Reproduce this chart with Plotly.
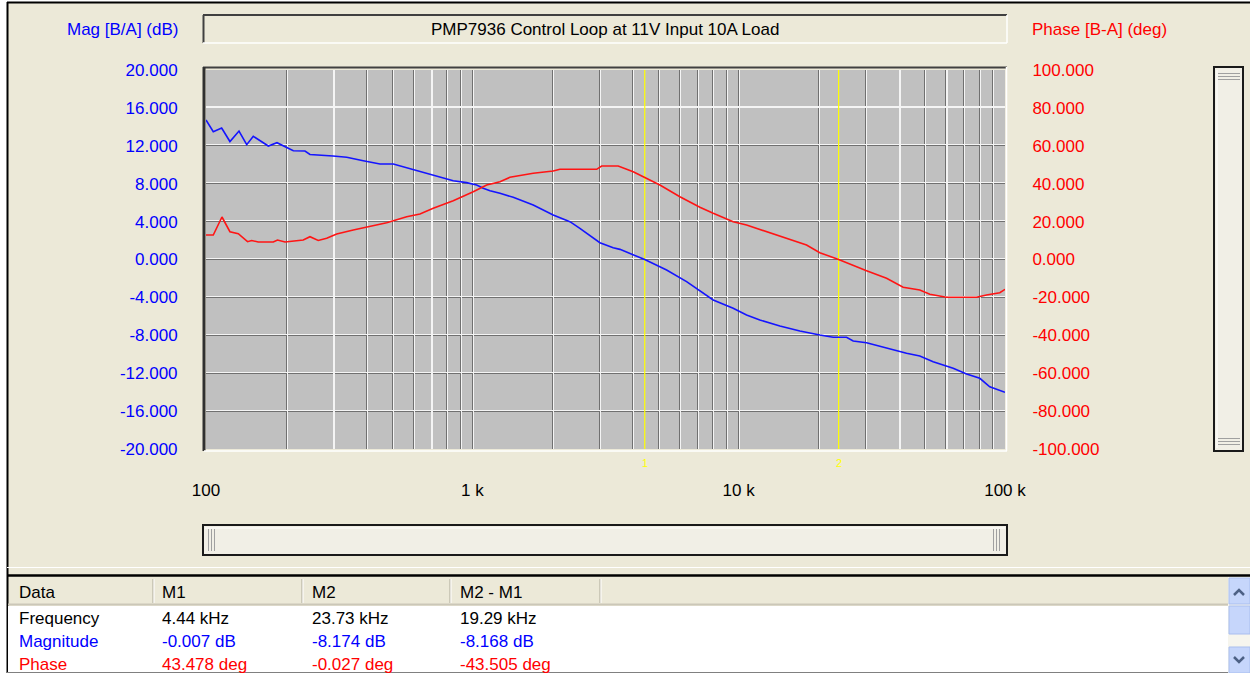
import plotly.graph_objects as go
import numpy as np

# ---------------- data ----------------
mag_freq = [100, 106.5, 114.5, 123, 133, 142.2, 150.5, 159.5, 171.4, 184.7, 200.9, 212.7, 235.3, 245.7,
            299.7, 337.5, 389.5, 450, 504.9, 600.1, 713.2, 847.7, 952, 1038, 1099, 1165, 1270, 1424,
            1693, 2012, 2325, 2534, 3013, 3380, 3583, 4138, 4440, 5363, 6374, 8024, 9537, 10705,
            12011, 14279, 16973, 20170, 22630, 25410, 26910, 30210, 35920, 42690, 47880, 53730,
            63880, 71710, 80430, 87660, 100000]
mag_db = [14.72, 13.49, 13.88, 12.45, 13.56, 12.12, 13.0, 12.51, 11.98, 12.33, 11.82, 11.48, 11.45, 11.08,
          10.92, 10.79, 10.43, 10.08, 10.08, 9.52, 8.92, 8.32, 8.11, 7.86, 7.51, 7.26, 6.99, 6.56,
          5.75, 4.70, 3.99, 3.29, 1.77, 1.24, 1.07, 0.30, -0.01, -1.11, -2.34, -4.27, -5.15, -5.86,
          -6.39, -7.02, -7.55, -7.97, -8.21, -8.21, -8.60, -8.78, -9.37, -9.90, -10.18, -10.79,
          -11.48, -12.08, -12.54, -13.43, -14.02]

ph_freq = [100, 106.5, 114.8, 123, 132.2, 143.2, 148.4, 157.1, 178.9, 185.5, 198, 231.8, 245.7, 263.9,
           283.9, 309.5, 357.2, 412.7, 476.9, 566.8, 635.9, 713.2, 847.7, 1008, 1132, 1270, 1384,
           1693, 2012, 2132, 2929, 3058, 3529, 4018, 4440, 5061, 6016, 7152, 8024, 9537, 10705,
           12725, 15125, 17980, 20170, 23730, 30210, 35920, 41450, 47880, 52210, 60310, 78170,
           85200, 95610, 100000]
ph_deg = [12.93, 12.93, 22.43, 14.67, 13.61, 9.39, 10.03, 9.23, 9.23, 10.29, 9.23, 10.29, 12.03, 10.03,
          11.19, 13.46, 15.57, 17.31, 19.42, 22.59, 24.01, 27.02, 31.03, 35.78, 39.31, 41.06, 43.38,
          45.49, 46.70, 47.60, 47.60, 49.34, 49.34, 46.33, 43.48, 39.31, 33.14, 27.55, 24.38, 19.95,
          18.21, 14.67, 11.19, 7.65, 3.59, -0.03, -5.91, -9.92, -14.67, -16.09, -18.36, -19.95,
          -19.95, -18.73, -17.52, -15.73]

marker_names = ["1", "2"]
marker_freq = [4440, 23730]

x_tickvals = [m * 10 ** e for e in (2, 3, 4) for m in range(1, 10)] + [100000]
x_ticktext = ["100" if v == 100 else "1 k" if v == 1000 else "10 k" if v == 10000 else
              "100 k" if v == 100000 else "" for v in x_tickvals]
mag_ticks = [-20, -16, -12, -8, -4, 0, 4, 8, 12, 16, 20]
mag_ticktext = ["-20.000", "-16.000", "-12.000", "-8.000", "-4.000", "0.000",
                "4.000", "8.000", "12.000", "16.000", "20.000"]
ph_ticks = [-100, -80, -60, -40, -20, 0, 20, 40, 60, 80, 100]
ph_ticktext = ["-100.000", "-80.000", "-60.000", "-40.000", "-20.000", "0.000",
               "20.000", "40.000", "60.000", "80.000", "100.000"]

title_text = "PMP7936 Control Loop at 11V Input 10A Load"
mag_label = "Mag [B/A] (dB)"
phase_label = "Phase [B-A] (deg)"

table_header = ["Data", "M1", "M2", "M2 - M1"]
row_freq = ["Frequency", "4.44 kHz", "23.73 kHz", "19.29 kHz"]
row_mag = ["Magnitude", "-0.007 dB", "-8.174 dB", "-8.168 dB"]
row_phase = ["Phase", "43.478 deg", "-0.027 deg", "-43.505 deg"]

# ---------------- styling ----------------
W, H = 1250, 673
FONT = "Liberation Sans"
FS = 17
BEIGE = "#ECE9D8"
BLUE = "#0000FF"
RED = "#FF0000"


def X(p):
    return p / W


def Y(p):
    return 1 - p / H


shapes = []
annotations = []


def rect(x0, y0, x1, y1, fill, line=None, width=0):
    shapes.append(dict(type="rect", xref="paper", yref="paper", x0=X(x0), x1=X(x1), y0=Y(y0), y1=Y(y1),
                       fillcolor=fill, line=dict(color=line or fill, width=width), layer="above"))


def seg(x0, y0, x1, y1, color, width=1):
    shapes.append(dict(type="line", xref="paper", yref="paper", x0=X(x0), x1=X(x1), y0=Y(y0), y1=Y(y1),
                       line=dict(color=color, width=width), layer="above"))


def path(pts, color, width=2):
    d = "M " + " L ".join(f"{X(a):.5f},{Y(b):.5f}" for a, b in pts)
    shapes.append(dict(type="path", xref="paper", yref="paper", path=d,
                       line=dict(color=color, width=width), layer="above"))


def text(x, y, s, color="black", xanchor="left", size=FS):
    annotations.append(dict(xref="paper", yref="paper", x=X(x), y=Y(y), text=s, showarrow=False,
                            xanchor=xanchor, yanchor="middle", font=dict(family=FONT, size=size, color=color)))


fig = go.Figure()

# empty trace so that the overlay grid axes (white highlight lines) get drawn
fig.add_trace(go.Scatter(x=[], y=[], xaxis="x2", yaxis="y3", showlegend=False, hoverinfo="skip"))

# marker lines (yellow)
for f in marker_freq:
    fig.add_trace(go.Scatter(x=[f, f], y=[-20, 20], mode="lines", line=dict(color="#FFFF00", width=1.2),
                             hoverinfo="skip", showlegend=False, xaxis="x", yaxis="y"))

fig.add_trace(go.Scatter(x=mag_freq, y=mag_db, mode="lines", line=dict(color="#1414FF", width=1.6),
                         name="Mag", showlegend=False, xaxis="x", yaxis="y"))
fig.add_trace(go.Scatter(x=ph_freq, y=ph_deg, mode="lines", line=dict(color="#FF1414", width=1.6),
                         name="Phase", showlegend=False, xaxis="x", yaxis="y2"))

# ---------- window frame ----------
rect(0, 0, 7, 673, "#FFFFFF")
rect(0, 0, 1250, 2, "#FFFFFF")
seg(7, 2.5, 1250, 2.5, "#000000", 2)
seg(7.5, 2, 7.5, 673, "#000000", 2)

# title box (sunken)
seg(203, 15, 1007, 15, "#404040", 2)
seg(203.5, 15, 203.5, 43, "#404040", 2)
seg(203, 43, 1007, 43, "#FFFFFF", 1.5)
seg(1007, 15, 1007, 43, "#FFFFFF", 1.5)
text(605, 30, title_text, "black", "center")
text(180, 30, mag_label, BLUE, "right")
text(1030, 30, phase_label, RED, "left")

# plot frame (sunken)
seg(203, 67.5, 1007, 67.5, "#404040", 2)
seg(204, 67, 204, 451, "#303030", 3)
seg(204, 451, 1007, 451, "#FFFFFF", 1.5)
seg(1006.5, 67, 1006.5, 451, "#FFFFFF", 1.5)

# marker labels
for name, f in zip(marker_names, marker_freq):
    annotations.append(dict(xref="x", yref="paper", x=np.log10(f), y=Y(463), text=name, showarrow=False,
                            font=dict(family=FONT, size=11, color="#FFFF00"), xanchor="center", yanchor="middle"))

# horizontal scrollbar
rect(203, 525, 1007, 555, "#F1EFE6", "#1A1A1A", 2)
seg(205, 528, 1005, 528, "#FFFFFF", 1)
for xx in (208.5, 211.5, 214.5, 993.5, 996.5, 999.5):
    seg(xx, 529, xx, 551, "#A0A0A0", 1)

# vertical scrollbar
rect(1214, 67, 1243, 451, "#F1EFE6", "#1A1A1A", 2)
seg(1217, 70, 1217, 448, "#FFFFFF", 1)
for yy in (73.5, 76.5, 79.5, 438.5, 441.5, 444.5):
    seg(1218, yy, 1240, yy, "#A0A0A0", 1)

# ---------- data table ----------
seg(7, 567.5, 1250, 567.5, "#FFFFFF", 1)
seg(7, 575.5, 1250, 575.5, "#000000", 2.5)
seg(8, 604.5, 1228, 604.5, "#CBC7B8", 2)
for xx in (153, 302, 450, 600):
    seg(xx, 579, xx, 603, "#ACA899", 1)
    seg(xx + 1, 579, xx + 1, 603, "#FFFFFF", 1)
rect(8, 606, 1228, 673, "#FFFFFF")
seg(7, 672.5, 1250, 672.5, "#808080", 1)
# table scrollbar
rect(1228, 577, 1250, 673, "#F6F5EE")
rect(1229, 578, 1250, 604, "#C6D6FB", "#A9BEEF", 1)
rect(1229, 606, 1250, 634, "#C6D6FB", "#A9BEEF", 1)
rect(1229, 647, 1250, 673, "#C6D6FB", "#A9BEEF", 1)
path([(1234, 595), (1239, 590), (1244, 595)], "#4D6185", 2.5)
path([(1234, 657), (1239, 662), (1244, 657)], "#4D6185", 2.5)

col_x = [17, 160, 310, 458]
for cx, s in zip(col_x, table_header):
    text(cx, 592, s, "black")
for cx, s in zip(col_x, row_freq):
    text(cx, 618, s, "black")
for cx, s in zip(col_x, row_mag):
    text(cx, 641, s, BLUE)
for cx, s in zip(col_x, row_phase):
    text(cx, 664, s, RED)

dom_x = [X(206), X(1005)]
dom_y = [Y(449), Y(70)]
shift_x = 3 / 799.0
shift_y = 40 / 379.0

fig.update_layout(
    width=W, height=H, margin=dict(l=0, r=0, t=0, b=0, pad=0, autoexpand=False),
    paper_bgcolor=BEIGE, plot_bgcolor="#C0C0C0",
    font=dict(family=FONT, size=FS),
    showlegend=False, hovermode=False,
    xaxis=dict(type="log", range=[2, 5], domain=dom_x, anchor="y", automargin=False,
               tickmode="array", tickvals=x_tickvals, ticktext=x_ticktext,
               ticks="outside", ticklen=26, tickcolor="rgba(0,0,0,0)",
               tickfont=dict(family=FONT, size=FS, color="black"),
               showgrid=True, gridcolor="#707070", gridwidth=1,
               showline=False, zeroline=False, fixedrange=True),
    yaxis=dict(range=[-20, 20], domain=dom_y, anchor="x", automargin=False,
               tickmode="array", tickvals=mag_ticks, ticktext=mag_ticktext,
               ticks="outside", ticklen=24, tickcolor="rgba(0,0,0,0)",
               tickfont=dict(family=FONT, size=FS, color=BLUE),
               showgrid=True, gridcolor="#707070", gridwidth=1,
               showline=False, zeroline=False, fixedrange=True),
    yaxis2=dict(range=[-100, 100], overlaying="y", side="right", anchor="x", automargin=False,
                tickmode="array", tickvals=ph_ticks, ticktext=ph_ticktext,
                ticks="outside", ticklen=23, tickcolor="rgba(0,0,0,0)",
                tickfont=dict(family=FONT, size=FS, color=RED),
                showgrid=False, showline=False, zeroline=False, fixedrange=True),
    xaxis2=dict(type="log", range=[2 - shift_x, 5 - shift_x], overlaying="x", anchor="y3", automargin=False,
                tickmode="array", tickvals=x_tickvals, showticklabels=False, ticks="",
                showgrid=True, gridcolor="#F4F4F4", gridwidth=1.2,
                showline=False, zeroline=False, fixedrange=True),
    yaxis3=dict(range=[-20 - shift_y, 20 - shift_y], overlaying="y", anchor="x2", automargin=False,
                tickmode="array", tickvals=mag_ticks, showticklabels=False, ticks="",
                showgrid=True, gridcolor="#F4F4F4", gridwidth=1.2,
                showline=False, zeroline=False, fixedrange=True),
    shapes=shapes, annotations=annotations,
)

fig.write_html("out.html", config={"displayModeBar": False, "staticPlot": True},
               post_script=("document.body.style.margin='0';document.body.style.padding='0';"
                            "document.body.style.overflow='hidden';"))
